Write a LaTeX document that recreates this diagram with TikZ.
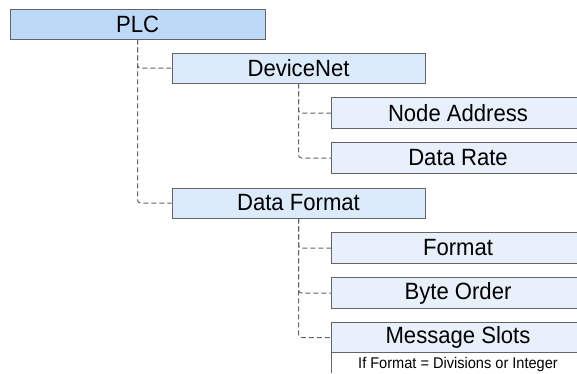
\documentclass[tikz,border=0pt]{standalone}
\usepackage{fontspec}
\setmainfont{Liberation Sans}[FakeStretch=0.94]
\usepackage{tikz}
\usetikzlibrary{backgrounds}

\definecolor{topblue}{RGB}{188,217,247}
\definecolor{midblue}{RGB}{220,235,251}
\definecolor{lowblue}{RGB}{232,240,252}
\definecolor{edge}{RGB}{100,100,100}

\begin{document}
\begin{tikzpicture}[x=1pt,y=-1pt]
		\tikzstyle{menu}=[draw=edge,line width=0.8pt,minimum width=253pt,minimum height=30pt,inner sep=0pt,font=\fontsize{23.5}{25}\selectfont]
		\tikzstyle{root}=[menu,fill=topblue,minimum width=255pt]
		\tikzstyle{group}=[menu,fill=midblue]
		\tikzstyle{item}=[menu,draw=none]
		\tikzstyle{rim}=[draw=edge,line width=0.8pt]
		\tikzstyle{link}=[draw=edge,line width=1pt,dash pattern=on 5pt off 3pt,rounded corners=3pt]
		
		\useasboundingbox (0,0) rectangle (577,373);
		\coordinate (edgeR) at (577,0);
		\coordinate (edgeB) at (0,373);
		
		\node[root](plc) at (137.5,24){PLC};
		
		\node[group](devnet) at (298.5,68){DeviceNet};
		\node[item](addr) at (458,113){Node Address};
		\node[item](rate) at (458,158){Data Rate};
		
		\node[group](dfmt) at (298.5,203){Data Format};
		\node[item](format) at (458,248){Format};
		\node[item](order) at (458,293){Byte Order};
		\node[item,minimum height=29pt](slots) at (458,337.5){Message Slots};
		\node[item,minimum height=24pt,font=\fontsize{15.5}{17}\selectfont,anchor=north](note) at (slots.south){If Format = Divisions or Integer};
		
		% boxes cut off by the right edge
		\begin{scope}[on background layer]
		\foreach \b in {addr,rate,format,order,slots}{
			\fill[lowblue] (\b.north west) rectangle (\b.south -| edgeR);
			\draw[rim] (\b.north -| edgeR) -- (\b.north west) -- (\b.south west) -- (\b.south -| edgeR);
		}
		\draw[rim] (note.north west) -- (note.west |- edgeB);
		\end{scope}
		
		\draw[link] (plc.south) |- (devnet.west);
		\draw[link] (plc.south) |- (dfmt.west);
		
		\draw[link] (devnet.south) |- (addr.west);
		\draw[link] (devnet.south) |- (rate.west);
		
		\draw[link] (dfmt.south) |- (format.west);
		\draw[link] (dfmt.south) |- (order.west);
		\draw[link] (dfmt.south) |- (slots.west);
\end{tikzpicture}
\end{document}
